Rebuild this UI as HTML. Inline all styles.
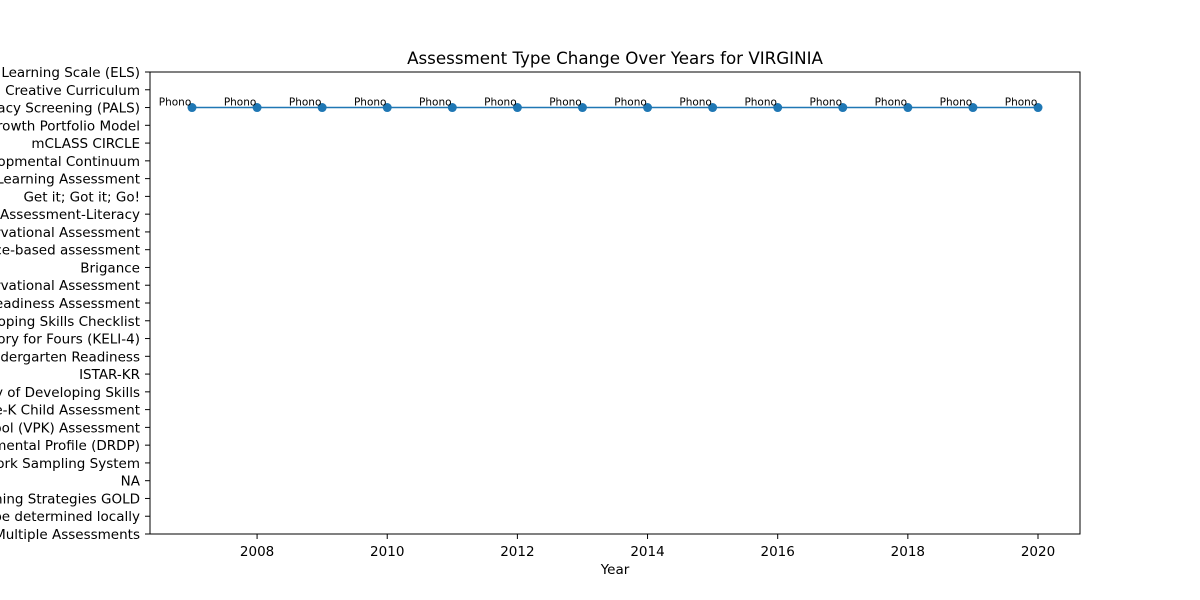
<!DOCTYPE html>
<html><head><meta charset="utf-8"><style>
body{margin:0;background:#fff;font-family:"DejaVu Sans",sans-serif;}
svg{display:block}
text{font-family:"DejaVu Sans",sans-serif}
</style></head><body>
<svg id="chart" width="1200" height="600">
<rect width="1200" height="600" fill="#fff"/>
<text x="615" y="64" text-anchor="middle" font-size="16.7">Assessment Type Change Over Years for VIRGINIA</text>
<g id="yticks"></g><g id="xticks"></g><g id="marks"></g>
<rect x="150" y="72" width="930" height="462" fill="none" stroke="#000" stroke-width="1"/>
<text x="615" y="574" text-anchor="middle" font-size="13.5">Year</text>
</svg>
<script>
const categories=["Early Learning Scale (ELS)","Creative Curriculum","Phonological Awareness Literacy Screening (PALS)","Growth Portfolio Model","mCLASS CIRCLE","Developmental Continuum","Early Learning Assessment","Get it; Got it; Go!","Assessment-Literacy","Observational Assessment ","Performance-based assessment","Brigance","Observational Assessment","Kindergarten Readiness Assessment","Developing Skills Checklist","Kindergarten Entry Inventory for Fours (KELI-4) ","Kindergarten Readiness","ISTAR-KR","Inventory of Developing Skills","Pre-K Child Assessment","Virginia Preschool (VPK) Assessment","Desired Results Developmental Profile (DRDP)","Work Sampling System","NA","Teaching Strategies GOLD","To be determined locally","Multiple Assessments"];
const years=[2007,2008,2009,2010,2011,2012,2013,2014,2015,2016,2017,2018,2019,2020];
const values=["Phonological Awareness Literacy Screening (PALS)","Phonological Awareness Literacy Screening (PALS)","Phonological Awareness Literacy Screening (PALS)","Phonological Awareness Literacy Screening (PALS)","Phonological Awareness Literacy Screening (PALS)","Phonological Awareness Literacy Screening (PALS)","Phonological Awareness Literacy Screening (PALS)","Phonological Awareness Literacy Screening (PALS)","Phonological Awareness Literacy Screening (PALS)","Phonological Awareness Literacy Screening (PALS)","Phonological Awareness Literacy Screening (PALS)","Phonological Awareness Literacy Screening (PALS)","Phonological Awareness Literacy Screening (PALS)","Phonological Awareness Literacy Screening (PALS)"];
const labels=["Phono","Phono","Phono","Phono","Phono","Phono","Phono","Phono","Phono","Phono","Phono","Phono","Phono","Phono"];
const xTicks=[2008,2010,2012,2014,2016,2018,2020];
const NS="http://www.w3.org/2000/svg";
const xs=y=>192+(y-2007)*(1038-192)/13;
const ys=c=>72+categories.indexOf(c)*(534-72)/(categories.length-1);
function mk(t,a,p){const e=document.createElementNS(NS,t);for(const k in a)e.setAttribute(k,a[k]);p.appendChild(e);return e;}
const yg=document.getElementById('yticks'),xg=document.getElementById('xticks'),mg=document.getElementById('marks');
categories.forEach(c=>{const y=ys(c);
const l=mk('line',{x1:145,x2:150,y1:y,y2:y,stroke:'#000'},yg);


const t=mk('text',{x:140,y:y+5,'text-anchor':'end','font-size':13.5},yg);t.textContent=c;

});
xTicks.forEach(v=>{const x=xs(v);
const l=mk('line',{x1:x,x2:x,y1:534,y2:539,stroke:'#000'},xg);


const t=mk('text',{x:x,y:556,'text-anchor':'middle','font-size':13.5},xg);t.textContent=v;

});
const pts=years.map((y,i)=>xs(y)+','+ys(values[i])).join(' ');
const pl=mk('polyline',{points:pts,fill:'none',stroke:'#1f77b4','stroke-width':1.5},mg);


years.forEach((y,i)=>{const x=xs(y),yy=ys(values[i]);
const c=mk('circle',{cx:x,cy:yy,r:4.5,fill:'#1f77b4'},mg);


const t=mk('text',{x:x-17,y:yy-2,'text-anchor':'middle','font-size':10.5},mg);t.textContent=labels[i];

});
</script>
</body></html>
